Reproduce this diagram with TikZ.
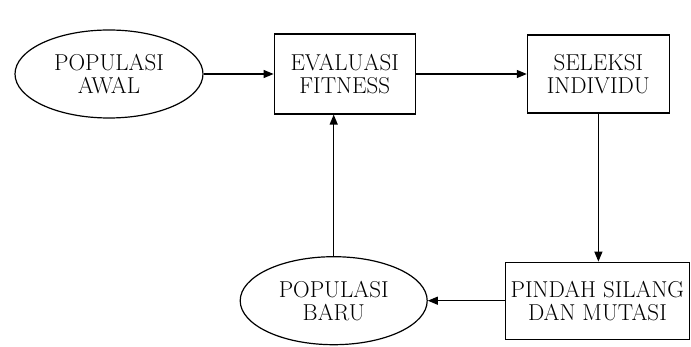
\documentclass[tikz,border=0pt]{standalone}
\usetikzlibrary{arrows.meta, positioning, shapes.geometric}

\begin{document}
\begin{tikzpicture}[
    every node/.style={draw, line width=1.2pt, align=center, inner sep=0pt,
        font=\fontsize{23}{23}\selectfont},
    stepbox/.style={rectangle, minimum width=141pt, minimum height=80pt},
    popbox/.style={ellipse, minimum width=188pt, minimum height=88pt},
    arrow/.style={-{Triangle[length=10pt,width=8pt]}, line width=1.2pt}
]
\useasboundingbox (0,0) rectangle (691pt,-347pt);

% Row 1
\node (awal) [popbox] at (109pt,-74pt) {POPULASI\\ AWAL};
\node (eval) [stepbox, right=70pt of awal] {EVALUASI\\ FITNESS};
\node (seleksi) [stepbox, minimum width=142pt, minimum height=78pt, right=111pt of eval] {SELEKSI\\ INDIVIDU};

\draw[arrow] (awal) -- (eval);
\draw[arrow] (eval) -- (seleksi);

% Row 2
\node (pindah) [stepbox, minimum width=184pt, minimum height=77pt, below=148pt of seleksi, xshift=-1pt] {PINDAH SILANG\\ DAN MUTASI};
\node (baru) [popbox, minimum width=187pt, minimum height=88pt, left=77pt of pindah] {POPULASI\\ BARU};

\draw[arrow] (seleksi.south) -- (seleksi.south |- pindah.north);
\draw[arrow] (pindah) -- (baru);
\draw[arrow] (baru.north) -- (baru.north |- eval.south);

\end{tikzpicture}
\end{document}
